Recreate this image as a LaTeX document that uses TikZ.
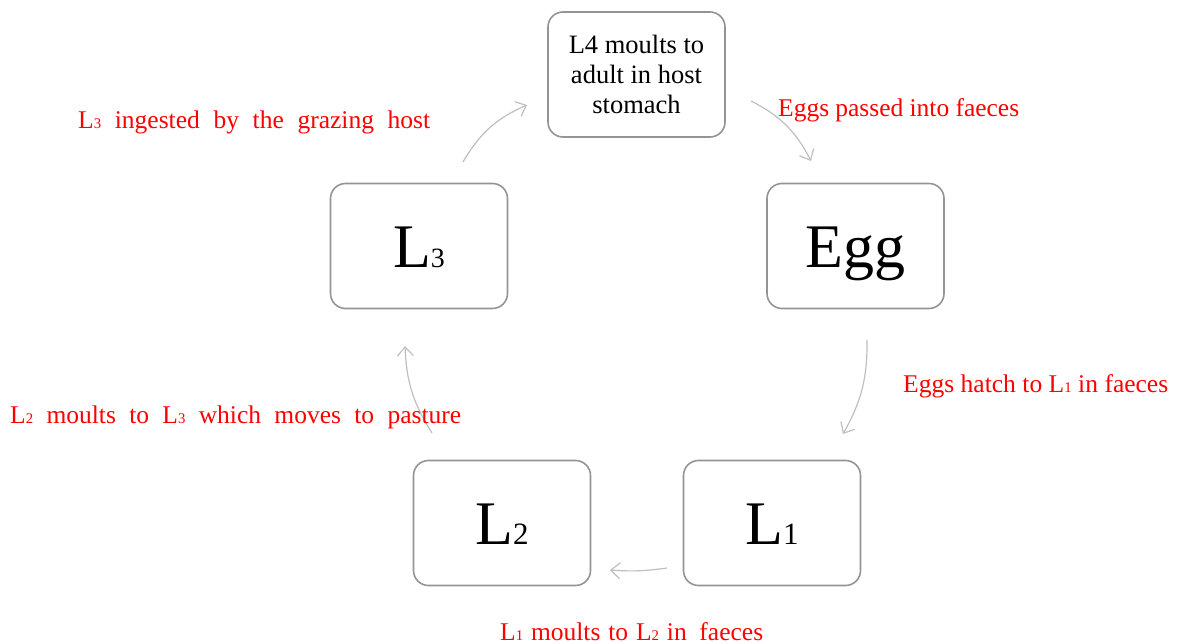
\documentclass[tikz,border=0pt]{standalone}
\usepackage{fontspec}
\setmainfont{Liberation Serif}
\usepackage{graphicx}
\usetikzlibrary{arrows.meta}
\newcommand\dsub[2][0.5]{\scalebox{#1}{#2}}
\begin{document}
\begin{tikzpicture}[x=1pt,y=-1pt,
  box/.style={draw=black!42, line width=1.6pt, rounded corners=15pt, minimum width=177pt, minimum height=125pt, inner sep=0pt},
  big/.style={box, font=\fontsize{62}{70}\selectfont, text height=43pt, text depth=0pt},
  lab/.style={text=red, font=\fontsize{25.5}{28}\selectfont, inner sep=0pt, anchor=base west},
  conn/.style={draw=black!25, line width=1.2pt, -{Straight Barb[length=9pt,width=16pt]}}]
\useasboundingbox (0,0) rectangle (1178,644);
% boxes
\node[box, font=\fontsize{26.5}{30}\selectfont, align=center] (L4) at (636.5,74.5) {L4 moults to\\adult in host\\stomach};
\node[big] (L3) at (419,246) {L\dsub[0.45]{3}};
\node[big] (Egg) at (855.5,246) {Egg};
\node[big] (L2) at (502,523) {L\dsub[0.5]{2}};
\node[big] (L1) at (772,523) {L\dsub[0.5]{1}};
% connector ends
\coordinate (a1s) at (463,162); \coordinate (a1e) at (527,105);
\coordinate (a2s) at (751,101); \coordinate (a2e) at (811,161);
\coordinate (a3s) at (867,340); \coordinate (a3e) at (843,434);
\coordinate (a4s) at (667,568); \coordinate (a4e) at (610,570);
\coordinate (a5s) at (432,433); \coordinate (a5e) at (405,346);
\draw[conn] (a1s) to[bend left=18] (a1e);
\draw[conn] (a2s) to[bend left=18] (a2e);
\draw[conn] (a3s) to[bend left=15] (a3e);
\draw[conn] (a4s) to[bend left=6] (a4e);
\draw[conn] (a5s) to[bend left=15] (a5e);
% labels
\node[lab] (t1) at (78,129) {\makebox[352pt][s]{L\dsub[0.58]{3} ingested by the grazing host}};
\node[lab] (t2) at (778,117) {\makebox[241pt][s]{Eggs passed into faeces}};
\node[lab] (t3) at (903,392) {\makebox[265pt][s]{Eggs hatch to L\dsub[0.58]{1} in faeces}};
\node[lab] (t4) at (10,423) {\makebox[451pt][s]{L\dsub[0.58]{2} moults to L\dsub[0.58]{3} which moves to pasture}};
\node[lab] (t5) at (500,640) {\makebox[263pt][s]{L\dsub[0.58]{1} moults to L\dsub[0.58]{2} in\hspace{0.5em}faeces}};
\end{tikzpicture}
\end{document}
